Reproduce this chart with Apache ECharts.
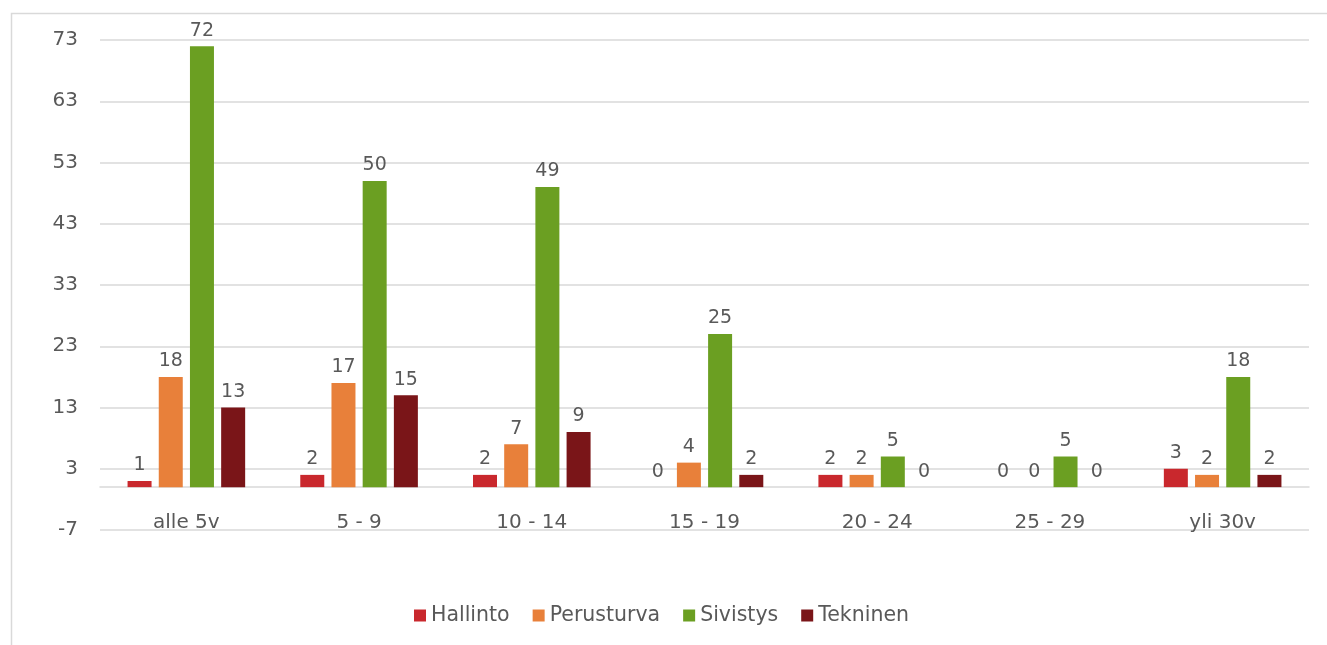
<!DOCTYPE html>
<html>
<head>
<meta charset="utf-8">
<script src="https://cdn.jsdelivr.net/npm/echarts@6/dist/echarts.min.js"></script>
<style>html,body{margin:0;padding:0;background:#fff}#c{width:1327px;height:645px}</style>
</head>
<body>
<div id="c"></div>
<script>
const categories = ['alle 5v', '5 - 9', '10 - 14', '15 - 19', '20 - 24', '25 - 29', 'yli 30v'];
const seriesNames = ['Hallinto', 'Perusturva', 'Sivistys', 'Tekninen'];
const hallinto = [1, 2, 2, 0, 2, 0, 3];
const perusturva = [18, 17, 7, 4, 2, 0, 2];
const sivistys = [72, 50, 49, 25, 5, 5, 18];
const tekninen = [13, 15, 9, 2, 0, 0, 2];
const yMin = -7, yMax = 73, yStep = 10;
const colors = ['#C9282D', '#E8803A', '#6B9F22', '#7A1518'];

const FONT = 'DejaVu Sans';
const TXT = '#595959';
const dataSets = [hallinto, perusturva, sivistys, tekninen];

const chart = echarts.init(document.getElementById('c'), null, {renderer: 'canvas'});
chart.setOption({
  animation: false,
  color: colors,
  textStyle: {fontFamily: FONT, color: TXT},
  graphic: [{
    type: 'rect', left: 9, top: 11, shape: {width: 1400, height: 700},
    style: {fill: 'none', stroke: '#d9d9d9', lineWidth: 1.5}, silent: true, z: -1
  }],
  grid: {left: 100, right: 18, top: 40, bottom: 115, containLabel: false},
  legend: {
    top: 600, left: 409, itemWidth: 12, itemHeight: 12, itemGap: 23,
    icon: 'rect',
    textStyle: {fontFamily: FONT, fontSize: 20.5, color: TXT},
    data: seriesNames
  },
  xAxis: {
    type: 'category', data: categories,
    axisLine: {show: true, onZero: true, onZeroAxisIndex: 0, lineStyle: {color: '#d9d9d9', width: 1.5}},
    axisTick: {show: false},
    axisLabel: {fontFamily: FONT, fontSize: 20, color: TXT, margin: -17}
  },
  yAxis: [
    {type: 'value', min: yMin, max: yMax, show: false, splitLine: {show: false}},
    {type: 'value', min: 0, max: yMax - yMin, interval: yStep, position: 'left',
      axisLine: {show: false}, axisTick: {show: false},
      axisLabel: {fontFamily: FONT, fontSize: 20, color: TXT, margin: 22,
        formatter: v => String(v + yMin)},
      splitLine: {show: true, lineStyle: {color: '#d9d9d9', width: 1.5}}}
  ],
  series: seriesNames.map((n, i) => ({
    name: n, type: 'bar', yAxisIndex: 0, data: dataSets[i],
    barWidth: 24, barGap: '30%',
    itemStyle: {color: colors[i]},
    label: {show: true, position: 'top', distance: 6, fontFamily: FONT, fontSize: 19, color: TXT}
  }))
});
</script>
</body>
</html>
